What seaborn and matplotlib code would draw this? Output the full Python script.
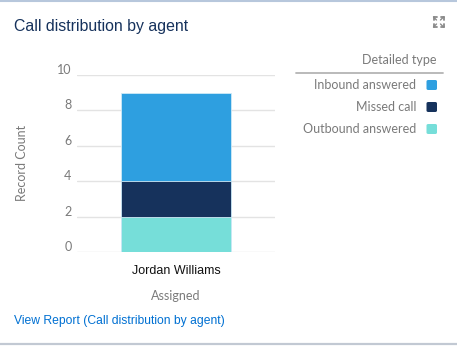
import matplotlib
matplotlib.use("Agg")
import matplotlib.pyplot as plt
import matplotlib.transforms as mtransforms
from matplotlib.patches import FancyBboxPatch
from matplotlib.lines import Line2D
import seaborn as sns
import pandas as pd
import numpy as np

# ---- data ----
agents = ["Jordan Williams"]
types = ["Inbound answered", "Missed call", "Outbound answered"]
counts = [5, 2, 2]          # Inbound, Missed, Outbound (stacked: Outbound bottom)
colors = ["#2e9fe0", "#16325c", "#76ded9"]
yticks = [0, 2, 4, 6, 8, 10]

W, H = 457, 346
sns.set_theme(style="white")
plt.rcParams["font.family"] = ["Lato", "DejaVu Sans"]

fig = plt.figure(figsize=(W / 100, H / 100), dpi=100)

def fx(x):
    return x / W

def fy(y):
    return 1 - y / H

# axes: x 77..275 px, y 75 (top=10) .. 252 (bottom=0)
ax = fig.add_axes([fx(77), fy(252), (275 - 77) / W, (252 - 75) / H])

# stacked bars: draw cumulative totals, tallest first (stack bottom = last type)
stack_order = [2, 1, 0]  # Outbound bottom, Missed, Inbound top
cum = np.cumsum([counts[i] for i in stack_order])
for idx, total in reversed(list(zip(stack_order, cum))):
    df = pd.DataFrame({"agent": agents, "value": [total]})
    sns.barplot(data=df, x="agent", y="value", color=colors[idx], width=0.56,
                saturation=1, edgecolor="#cfeaf7", linewidth=0.6, ax=ax)

ax.set_ylim(0, 10)
ax.set_xlim(-0.5, 0.5)
ax.set_yticks(yticks)
ax.set_yticklabels([str(t) for t in yticks])
ax.yaxis.grid(True, color="#e3e3e3", linewidth=1)
ax.set_axisbelow(True)
for s in ax.spines.values():
    s.set_visible(False)
ax.tick_params(axis="y", length=0, pad=4, labelsize=9, labelcolor="#7a7a7a")
ax.tick_params(axis="x", length=0, pad=9, labelsize=9, labelcolor="#111111")
for lab in ax.get_yticklabels():
    lab.set_transform(lab.get_transform() +
                      mtransforms.ScaledTranslation(0, 6 / 100, fig.dpi_scale_trans))
for lab in ax.get_xticklabels():
    lab.set_fontfamily(["Liberation Sans", "DejaVu Sans"])
ax.set_xlabel("")
ax.set_ylabel("")

# axis titles
fig.text(fx(22), fy(163), "Record Count", rotation=90, ha="center", va="center",
         fontsize=9, color="#7a7a7a")
fig.text(fx(176), fy(296), "Assigned", ha="center", va="center",
         fontsize=9, color="#7a7a7a")

# title
fig.text(fx(14), fy(27), "Call distribution by agent", ha="left", va="center",
         fontsize=11.4, color="#16325c", family=["Liberation Sans", "DejaVu Sans"])

# link
fig.text(fx(14), fy(321), "View Report (Call distribution by agent)", ha="left",
         va="center", fontsize=8.7, color="#0070d2",
         family=["Liberation Sans", "DejaVu Sans"])

# legend
fig.text(fx(437), fy(60), "Detailed type", ha="right", va="center",
         fontsize=9, color="#7a7a7a")
fig.add_artist(Line2D([fx(296), fx(443)], [fy(73), fy(73)], color="#b4b4b4",
                      linewidth=1.3, transform=fig.transFigure))
leg_y = [85, 107, 129]
for name, col, yy in zip(types, colors, leg_y):
    fig.text(fx(416), fy(yy), name, ha="right", va="center",
             fontsize=9, color="#7a7a7a")
    fig.add_artist(FancyBboxPatch((fx(426.5), fy(yy + 5)), fx(10.5), 10 / H,
                                  boxstyle="round,pad=0,rounding_size=0.004",
                                  facecolor=col, edgecolor="none",
                                  transform=fig.transFigure))

# expand icon
ic = "#8a8a8a"
cx, cy, r = 438.5, 22, 5
for sx in (-1, 1):
    for sy in (-1, 1):
        x0, y0 = cx + sx * r, cy + sy * r
        fig.add_artist(Line2D([fx(x0), fx(x0 - sx * 3)], [fy(y0), fy(y0)],
                              color=ic, lw=1.3, transform=fig.transFigure))
        fig.add_artist(Line2D([fx(x0), fx(x0)], [fy(y0), fy(y0 - sy * 3)],
                              color=ic, lw=1.3, transform=fig.transFigure))
        fig.add_artist(Line2D([fx(x0), fx(x0 - sx * 3)], [fy(y0), fy(y0 - sy * 3)],
                              color=ic, lw=1.0, transform=fig.transFigure))

# borders
fig.add_artist(Line2D([0, 1], [fy(0.7), fy(0.7)], color="#b7c7dc", lw=1.5,
                      transform=fig.transFigure))
fig.add_artist(Line2D([0, 1], [fy(343.5), fy(343.5)], color="#c2c9d3", lw=1.6,
                      transform=fig.transFigure))

fig.savefig("out.png", dpi=100)
